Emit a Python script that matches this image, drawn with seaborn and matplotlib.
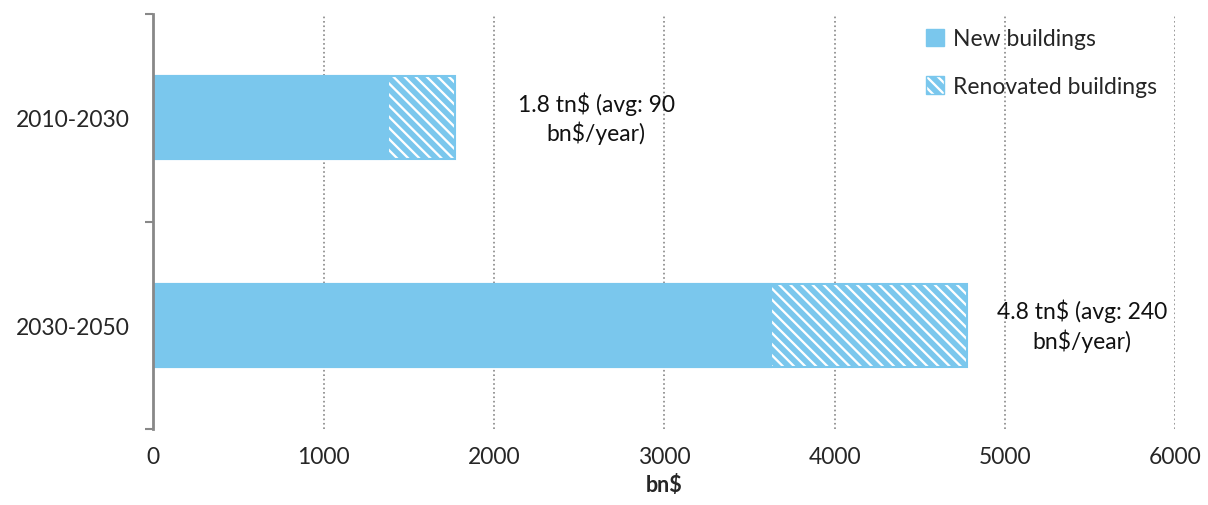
import pandas as pd
import matplotlib.pyplot as plt
import matplotlib.patches as mpatches
import seaborn as sns

# values (bn$)
periods = ["2010-2030", "2030-2050"]
new_buildings = [1380, 3625]
renovated_buildings = [390, 1150]
labels = ["1.8 tn$ (avg: 90\nbn$/year)", "4.8 tn$ (avg: 240\nbn$/year)"]
label_x = [2600, 5450]

blue = "#7AC7ED"

sns.set_style("white")
plt.rcParams["font.family"] = ["Lato", "DejaVu Sans"]
plt.rcParams["hatch.linewidth"] = 4
plt.rcParams["hatch.color"] = blue

df = pd.DataFrame({
    "period": periods,
    "new": new_buildings,
    "total": [a + b for a, b in zip(new_buildings, renovated_buildings)],
})

fig, ax = plt.subplots(figsize=(12.08, 5.06), dpi=100)
fig.subplots_adjust(left=0.127, right=0.973, top=0.97, bottom=0.15)

# total bar (hatched part shows as renovated), then the solid new-buildings bar over it
sns.barplot(data=df, x="total", y="period", orient="h", color="white",
            width=0.4, ax=ax, saturation=1)
for p in ax.patches:
    p.set_hatch("\\\\\\")
    p.set_edgecolor(blue)
    p.set_linewidth(1.5)
n_total = len(ax.patches)
sns.barplot(data=df, x="new", y="period", orient="h", color=blue,
            width=0.4, ax=ax, saturation=1)
for p in ax.patches[n_total:]:
    p.set_edgecolor(blue)
    p.set_linewidth(1.5)

for i, txt in enumerate(labels):
    ax.text(label_x[i], i, txt, ha="center", va="center", fontsize=16.5, color="#111111",
            linespacing=1.3)

ax.set_xlim(0, 6000)
ax.set_ylim(1.5, -0.5)
ax.set_xticks(range(0, 6001, 1000))
ax.set_yticks([-0.5, 0.5, 1.5], minor=False)
ax.set_yticklabels([])
ax.set_yticks([0, 1], minor=True)
ax.set_yticklabels(periods, minor=True)
ax.tick_params(axis="y", which="major", length=6, width=1.5, color="#888888", direction="out", left=True)
ax.tick_params(axis="y", which="minor", length=0, labelsize=16.5, pad=17)
ax.tick_params(axis="x", length=0, labelsize=16.5, pad=12)

ax.xaxis.grid(True, linestyle=":", color="#888888", linewidth=1.2)
ax.yaxis.grid(False)
for s in ["top", "right", "bottom"]:
    ax.spines[s].set_visible(False)
ax.spines["left"].set_color("#888888")
ax.spines["left"].set_linewidth(2)

ax.set_xlabel("bn$", fontsize=15.5, fontweight="bold", labelpad=5)
ax.set_ylabel("")

handles = [
    mpatches.Patch(facecolor=blue, edgecolor=blue, label="New buildings"),
    mpatches.Patch(facecolor="white", edgecolor=blue, hatch="\\\\\\", label="Renovated buildings"),
]
ax.legend(handles=handles, loc="upper right", bbox_to_anchor=(1.0, 1.01), frameon=False,
          fontsize=16.5, handlelength=0.8, handleheight=0.8, handletextpad=0.4,
          labelspacing=1.15, borderpad=0.3)

plt.savefig("out.png", dpi=100)
